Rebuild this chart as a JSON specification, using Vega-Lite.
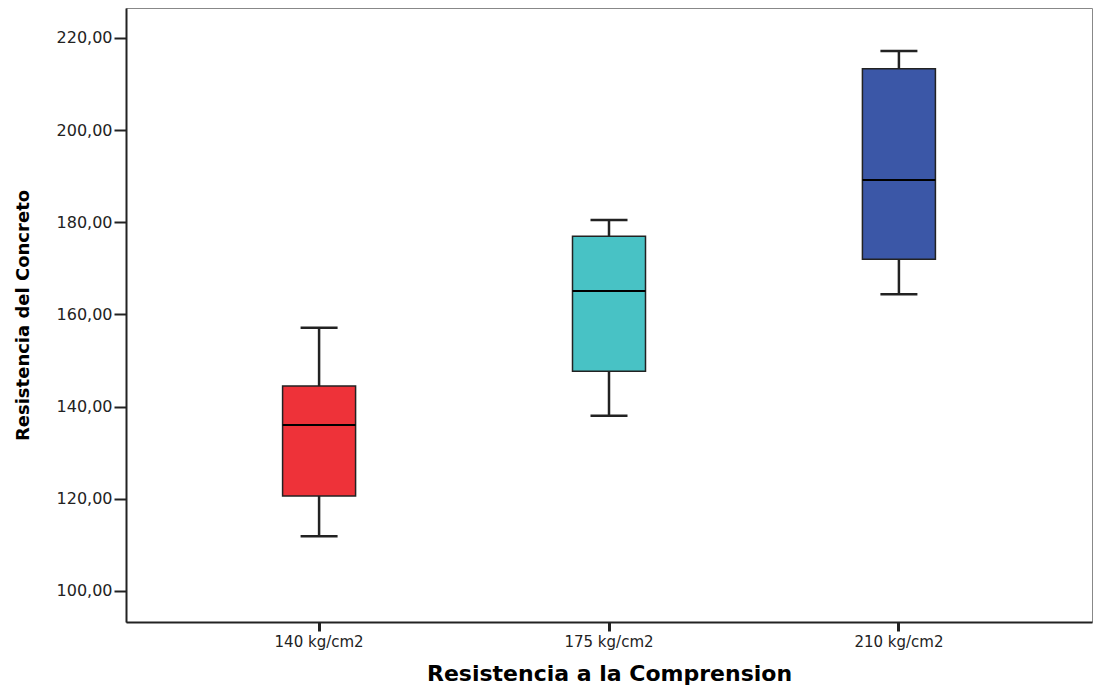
{
  "$schema": "https://vega.github.io/schema/vega-lite/v6.json",
  "autosize": {"type": "none"},
  "padding": {"left": 126, "top": 8, "right": 1, "bottom": 68},
  "width": 966,
  "height": 614,
  "background": "white",
  "config": {
    "view": {"stroke": "#888888", "strokeWidth": 1},
    "font": "DejaVu Sans"
  },
  "data": {
    "values": [
      {"grupo": "140 kg/cm2", "min": 111.9, "q1": 120.6, "median": 136.0, "q3": 144.5, "max": 157.1},
      {"grupo": "175 kg/cm2", "min": 138.0, "q1": 147.7, "median": 165.1, "q3": 177.0, "max": 180.5},
      {"grupo": "210 kg/cm2", "min": 164.4, "q1": 172.0, "median": 189.2, "q3": 213.3, "max": 217.2}
    ]
  },
  "encoding": {
    "x": {
      "field": "grupo",
      "type": "nominal",
      "sort": null,
      "scale": {"type": "band", "paddingInner": 0, "paddingOuter": 0.166},
      "axis": {
        "title": "Resistencia a la Comprension",
        "titleFont": "DejaVu Sans",
        "titleFontSize": 22,
        "titleFontWeight": "bold",
        "titleColor": "#000000",
        "titlePadding": 14,
        "labelAngle": 0,
        "labelFont": "DejaVu Sans",
        "labelFontSize": 15,
        "labelColor": "#222222",
        "labelPadding": 3,
        "domainColor": "#222222",
        "domainWidth": 2,
        "tickColor": "#222222",
        "tickWidth": 3,
        "tickSize": 9
      }
    }
  },
  "layer": [
    {
      "mark": {"type": "rule", "color": "#222222", "strokeWidth": 2.5},
      "encoding": {
        "y": {
          "field": "min",
          "type": "quantitative",
          "scale": {"domain": [93.27, 226.51], "nice": false, "zero": false},
          "axis": {
            "title": "Resistencia del Concreto",
            "titleFont": "DejaVu Sans",
            "titleFontSize": 18,
            "titleFontWeight": "bold",
            "titleColor": "#000000",
            "titlePadding": 24,
            "values": [100, 120, 140, 160, 180, 200, 220],
            "labelExpr": "replace(format(datum.value, '.2f'), '.', ',')",
            "labelFont": "DejaVu Sans",
            "labelFontSize": 16,
            "labelColor": "#222222",
            "labelPadding": 2,
            "domainColor": "#222222",
            "domainWidth": 2,
            "tickColor": "#222222",
            "tickWidth": 2,
            "tickSize": 12,
            "grid": false
          }
        },
        "y2": {"field": "max"}
      }
    },
    {
      "mark": {"type": "bar", "size": 73, "stroke": "#222222", "strokeWidth": 1.5},
      "encoding": {
        "y": {"field": "q1", "type": "quantitative"},
        "y2": {"field": "q3"},
        "color": {
          "field": "grupo",
          "type": "nominal",
          "sort": null,
          "scale": {"range": ["#EE3239", "#48C2C5", "#3B57A7"]},
          "legend": null
        }
      }
    },
    {
      "mark": {"type": "tick", "color": "#000000", "size": 73, "thickness": 2, "opacity": 1},
      "encoding": {"y": {"field": "median", "type": "quantitative"}}
    },
    {
      "mark": {"type": "tick", "color": "#222222", "size": 37, "thickness": 2.5, "opacity": 1},
      "encoding": {"y": {"field": "max", "type": "quantitative"}}
    },
    {
      "mark": {"type": "tick", "color": "#222222", "size": 37, "thickness": 2.5, "opacity": 1},
      "encoding": {"y": {"field": "min", "type": "quantitative"}}
    }
  ]
}
